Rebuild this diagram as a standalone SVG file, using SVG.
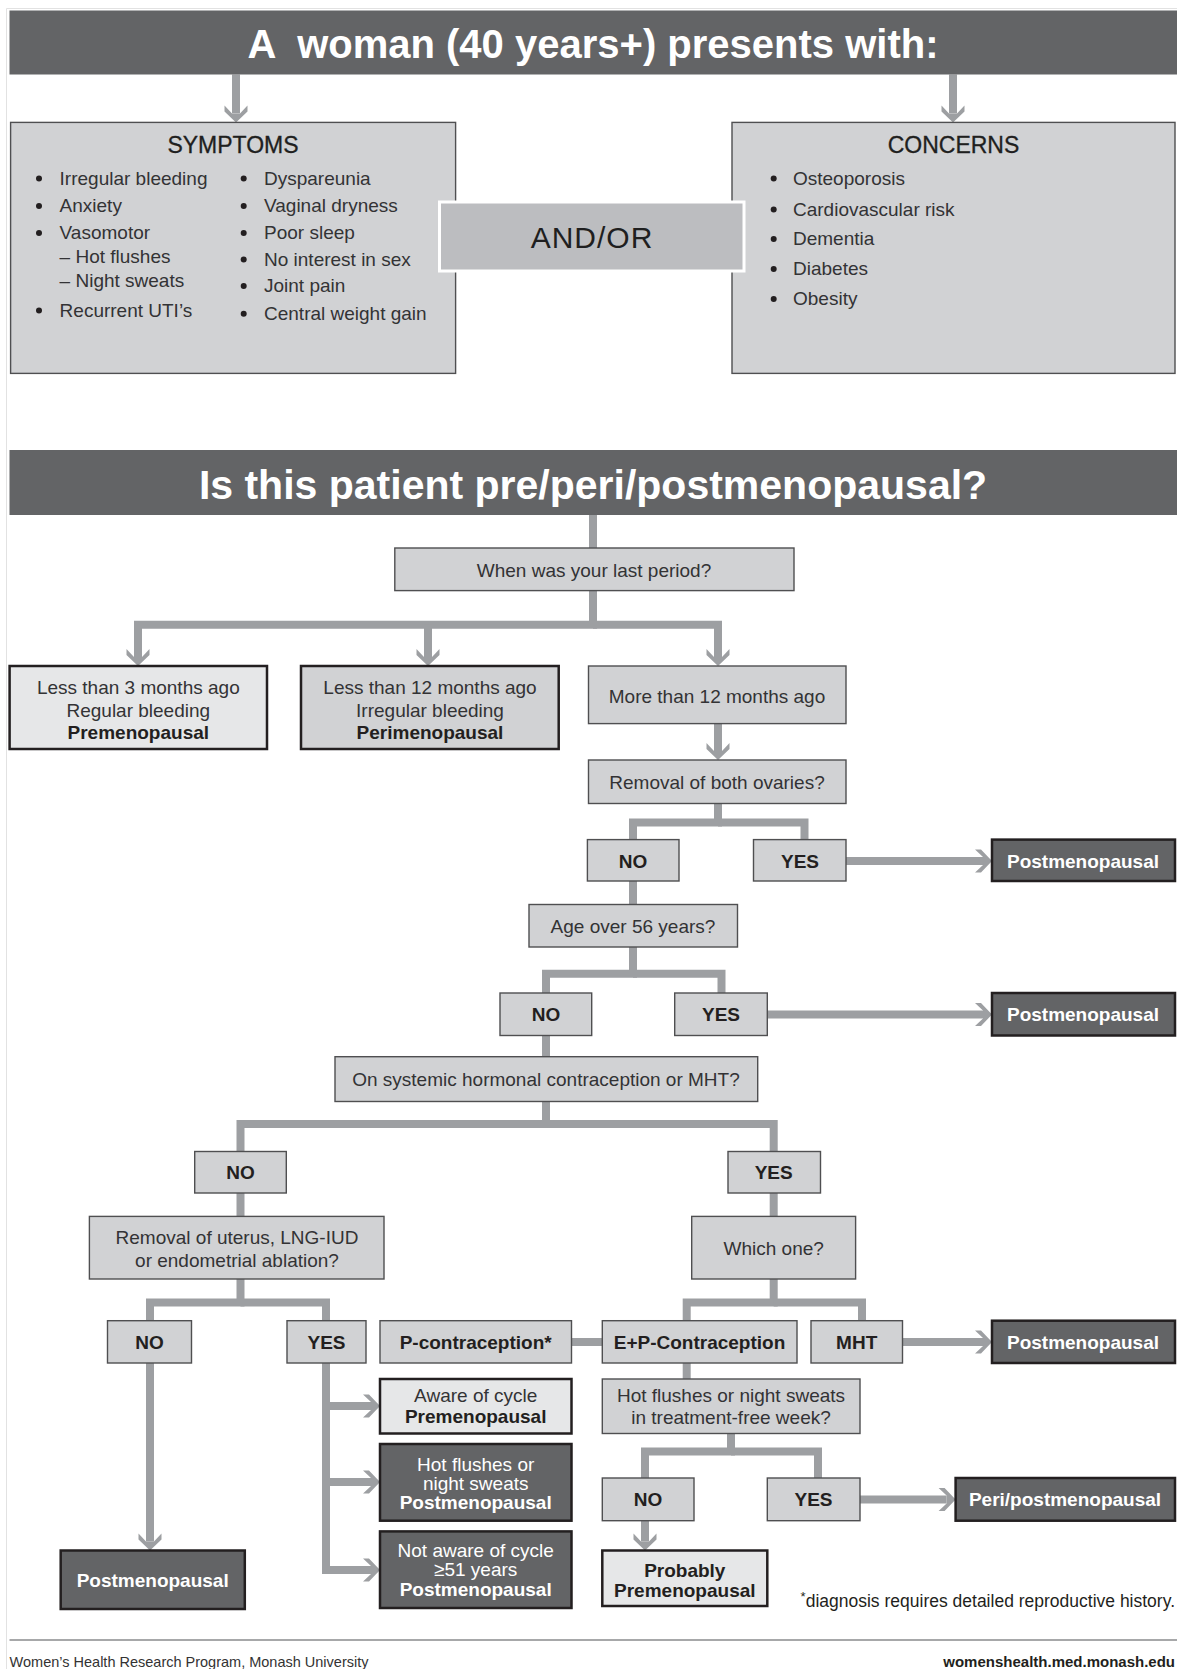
<svg xmlns="http://www.w3.org/2000/svg" width="1177" height="1669" viewBox="0 0 1177 1669">
<style>
.t{font-family:"Liberation Sans",Arial,Helvetica,sans-serif;font-size:19px;fill:#333335;text-anchor:middle}
.l{text-anchor:start}
.b{font-weight:bold;fill:#231f20}
.w{fill:#ffffff}
.hd{fill:#636466}
.box{fill:#d1d2d4;stroke:#4f4f51;stroke-width:1.4}
.lite{fill:#e6e7e8;stroke:#231f20;stroke-width:2.5}
.perim{fill:#d1d2d4;stroke:#231f20;stroke-width:2.5}
.dark{fill:#636466;stroke:#231f20;stroke-width:2.5}
.conn{fill:none;stroke:#9d9fa2;stroke-width:8;stroke-linejoin:miter}
.arr{marker-end:url(#ah)}
.bul{fill:#231f20}
</style>
<defs>
<marker id="ah" markerUnits="userSpaceOnUse" orient="auto" viewBox="-10 -12 20 24" refX="0" refY="0" markerWidth="20" markerHeight="24" overflow="visible">
<path d="M9,0 L-2,-11.5 L-8,-11.5 L0,-4 L0,4 L-8,11.5 L-2,11.5 Z" fill="#9d9fa2"/>
</marker>
</defs>
<rect width="1177" height="1669" fill="#ffffff"/>
<line x1="6.5" y1="8.5" x2="6.5" y2="1669" stroke="#e2e2e2" stroke-width="1"/>
<line x1="6.5" y1="8.5" x2="1177" y2="8.5" stroke="#e2e2e2" stroke-width="1"/>

<g id="connectors">
<path class="conn arr" d="M236,74.5 V113.4"/>
<path class="conn arr" d="M953,74.5 V113.4"/>
<path class="conn" d="M593,515 V548"/>
<path class="conn arr" d="M593,590 V624.7 H138 V657"/>
<path class="conn arr" d="M593,624.7 H718 V657"/>
<path class="conn arr" d="M428,624.7 V657"/>
<path class="conn arr" d="M718,723.6 V751"/>
<path class="conn" d="M718,803.5 V822.6 H633 V839.6"/>
<path class="conn" d="M718,822.6 H804.5 V839.6"/>
<path class="conn arr" d="M846,861 H983"/>
<path class="conn" d="M633,881 V904.5"/>
<path class="conn" d="M633,947 V973.7 H546 V993"/>
<path class="conn" d="M633,973.7 H721.5 V993"/>
<path class="conn arr" d="M767,1014.5 H983"/>
<path class="conn" d="M546,1035.5 V1056.7"/>
<path class="conn" d="M546,1101.5 V1124 H240.5 V1151.5"/>
<path class="conn" d="M546,1124 H773.7 V1151.5"/>
<path class="conn" d="M240.5,1193 V1216.4"/>
<path class="conn" d="M773.7,1193 V1216.4"/>
<path class="conn" d="M240.5,1279 V1302.6 H150 V1320.7"/>
<path class="conn" d="M240.5,1302.6 H326 V1320.7"/>
<path class="conn" d="M773.7,1279 V1302.6 H686.7 V1320.7"/>
<path class="conn" d="M773.7,1302.6 H862 V1320.7"/>
<path class="conn" d="M571.5,1342 H602.3"/>
<path class="conn arr" d="M902.5,1342 H983"/>
<path class="conn" d="M686.7,1363 V1379"/>
<path class="conn" d="M731,1433.5 V1451.6 H645 V1478"/>
<path class="conn" d="M731,1451.6 H818 V1478"/>
<path class="conn arr" d="M860,1499.5 H946.6"/>
<path class="conn arr" d="M645,1520.7 V1541.5"/>
<path class="conn arr" d="M150,1363 V1541.5"/>
<path class="conn arr" d="M326,1363 V1570 H371"/>
<path class="conn arr" d="M326,1406 H371"/>
<path class="conn arr" d="M326,1482 H371"/>
</g>

<g id="header1">
<rect class="hd" x="9.5" y="10.5" width="1167.5" height="64"/>
<text class="t b w" x="593" y="58" style="font-size:40px" xml:space="preserve">A  woman (40 years+) presents with:</text>
</g>

<g id="symptoms">
<rect class="box" x="10.6" y="122.4" width="445" height="251"/>
<text class="t" x="233" y="153" style="font-size:23px;fill:#1f1f20;stroke:#1f1f20;stroke-width:0.3">SYMPTOMS</text>
<circle class="bul" cx="39" cy="178.5" r="3"/>
<text class="t l" x="59.6" y="184.5">Irregular bleeding</text>
<circle class="bul" cx="39" cy="206" r="3"/>
<text class="t l" x="59.6" y="212">Anxiety</text>
<circle class="bul" cx="39" cy="233" r="3"/>
<text class="t l" x="59.6" y="239">Vasomotor</text>
<text class="t l" x="59.6" y="263">– Hot flushes</text>
<text class="t l" x="59.6" y="287">– Night sweats</text>
<circle class="bul" cx="39" cy="310.5" r="3"/>
<text class="t l" x="59.6" y="316.5">Recurrent UTI’s</text>
<circle class="bul" cx="243.7" cy="178.5" r="3"/>
<text class="t l" x="264" y="184.5">Dyspareunia</text>
<circle class="bul" cx="243.7" cy="206" r="3"/>
<text class="t l" x="264" y="212">Vaginal dryness</text>
<circle class="bul" cx="243.7" cy="233" r="3"/>
<text class="t l" x="264" y="239">Poor sleep</text>
<circle class="bul" cx="243.7" cy="259.5" r="3"/>
<text class="t l" x="264" y="265.5">No interest in sex</text>
<circle class="bul" cx="243.7" cy="286" r="3"/>
<text class="t l" x="264" y="292">Joint pain</text>
<circle class="bul" cx="243.7" cy="313.7" r="3"/>
<text class="t l" x="264" y="319.7">Central weight gain</text>
</g>

<g id="concerns">
<rect class="box" x="732" y="122.4" width="443" height="251"/>
<text class="t" x="953.5" y="153" style="font-size:23px;fill:#1f1f20;stroke:#1f1f20;stroke-width:0.3">CONCERNS</text>
<circle class="bul" cx="773.7" cy="178.5" r="3"/>
<text class="t l" x="793" y="184.5">Osteoporosis</text>
<circle class="bul" cx="773.7" cy="209.5" r="3"/>
<text class="t l" x="793" y="215.5">Cardiovascular risk</text>
<circle class="bul" cx="773.7" cy="239" r="3"/>
<text class="t l" x="793" y="245">Dementia</text>
<circle class="bul" cx="773.7" cy="269" r="3"/>
<text class="t l" x="793" y="275">Diabetes</text>
<circle class="bul" cx="773.7" cy="299" r="3"/>
<text class="t l" x="793" y="305">Obesity</text>
</g>

<g id="andor">
<rect x="439.5" y="202" width="304.5" height="69" fill="#bcbdc0" stroke="#ffffff" stroke-width="3"/>
<text class="t" x="592" y="248" style="font-size:30px;fill:#1f1f20;letter-spacing:1px">AND/OR</text>
</g>

<g id="header2">
<rect class="hd" x="9.5" y="450" width="1167.5" height="65"/>
<text class="t b w" x="593" y="499" style="font-size:41px">Is this patient pre/peri/postmenopausal?</text>
</g>

<g id="q-last-period">
<rect class="box" x="394.8" y="548" width="399.2" height="42.6"/>
<text class="t" x="594" y="577">When was your last period?</text>
</g>

<g id="lt3">
<rect class="lite" x="9.6" y="666" width="257.4" height="83"/>
<text class="t" x="138.3" y="694">Less than 3 months ago</text>
<text class="t" x="138.3" y="716.5">Regular bleeding</text>
<text class="t b" x="138.3" y="738.5">Premenopausal</text>
</g>

<g id="lt12">
<rect class="perim" x="301" y="666" width="257.7" height="83"/>
<text class="t" x="430" y="694">Less than 12 months ago</text>
<text class="t" x="430" y="716.5">Irregular bleeding</text>
<text class="t b" x="430" y="738.5">Perimenopausal</text>
</g>

<g id="gt12">
<rect class="box" x="588.5" y="666" width="257.5" height="57.6"/>
<text class="t" x="717" y="703">More than 12 months ago</text>
</g>

<g id="q-ovaries">
<rect class="box" x="588.5" y="760" width="257.5" height="43.5"/>
<text class="t" x="717" y="789">Removal of both ovaries?</text>
</g>

<g id="ov-no">
<rect class="box" x="587.4" y="839.6" width="91.6" height="41.4"/>
<text class="t b" x="633" y="867.5">NO</text>
</g>
<g id="ov-yes">
<rect class="box" x="753.5" y="839.6" width="92.5" height="41.4"/>
<text class="t b" x="800" y="867.5">YES</text>
</g>
<g id="post1">
<rect class="dark" x="992" y="839.6" width="183" height="41.4"/>
<text class="t b w" x="1083" y="867.5">Postmenopausal</text>
</g>

<g id="q-age">
<rect class="box" x="529" y="904.5" width="208.5" height="42.5"/>
<text class="t" x="633" y="932.5">Age over 56 years?</text>
</g>
<g id="age-no">
<rect class="box" x="500" y="993" width="91.7" height="42.5"/>
<text class="t b" x="546" y="1021">NO</text>
</g>
<g id="age-yes">
<rect class="box" x="674.7" y="993" width="92.6" height="42.5"/>
<text class="t b" x="721" y="1021">YES</text>
</g>
<g id="post2">
<rect class="dark" x="992" y="993" width="183" height="42.5"/>
<text class="t b w" x="1083" y="1021">Postmenopausal</text>
</g>

<g id="q-hormonal">
<rect class="box" x="335" y="1056.7" width="422.7" height="44.8"/>
<text class="t" x="546" y="1086">On systemic hormonal contraception or MHT?</text>
</g>
<g id="hc-no">
<rect class="box" x="194.7" y="1151.5" width="91.6" height="41.5"/>
<text class="t b" x="240.5" y="1179">NO</text>
</g>
<g id="hc-yes">
<rect class="box" x="728" y="1151.5" width="92.5" height="41.5"/>
<text class="t b" x="773.7" y="1179">YES</text>
</g>

<g id="q-uterus">
<rect class="box" x="89.4" y="1216.4" width="294.6" height="62.6"/>
<text class="t" x="237" y="1243.5">Removal of uterus, LNG-IUD</text>
<text class="t" x="237" y="1266.5">or endometrial ablation?</text>
</g>
<g id="q-which">
<rect class="box" x="691.7" y="1216.4" width="163.9" height="62.6"/>
<text class="t" x="773.7" y="1254.5">Which one?</text>
</g>

<g id="ut-no">
<rect class="box" x="107.5" y="1320.7" width="84" height="42.3"/>
<text class="t b" x="149.5" y="1349">NO</text>
</g>
<g id="ut-yes">
<rect class="box" x="287" y="1320.7" width="79" height="42.3"/>
<text class="t b" x="326.5" y="1349">YES</text>
</g>
<g id="p-contra">
<rect class="box" x="380" y="1320.7" width="191.5" height="42.3"/>
<text class="t b" x="475.7" y="1349">P-contraception*</text>
</g>
<g id="ep-contra">
<rect class="box" x="602.3" y="1320.7" width="194.7" height="42.3"/>
<text class="t b" x="699.5" y="1349">E+P-Contraception</text>
</g>
<g id="mht">
<rect class="box" x="811" y="1320.7" width="91.5" height="42.3"/>
<text class="t b" x="856.7" y="1349">MHT</text>
</g>
<g id="post3">
<rect class="dark" x="992" y="1320.7" width="183" height="42.3"/>
<text class="t b w" x="1083" y="1349">Postmenopausal</text>
</g>

<g id="aware">
<rect class="lite" x="380" y="1379" width="191.5" height="54.5"/>
<text class="t" x="475.7" y="1402">Aware of cycle</text>
<text class="t b" x="475.7" y="1423">Premenopausal</text>
</g>
<g id="hotflush-post">
<rect class="dark" x="380" y="1444" width="191.5" height="76.7"/>
<text class="t w" x="475.7" y="1471">Hot flushes or</text>
<text class="t w" x="475.7" y="1490">night sweats</text>
<text class="t b w" x="475.7" y="1509">Postmenopausal</text>
</g>
<g id="notaware">
<rect class="dark" x="380" y="1531.4" width="191.5" height="76.6"/>
<text class="t w" x="475.7" y="1557">Not aware of cycle</text>
<text class="t w" x="475.7" y="1576">≥51 years</text>
<text class="t b w" x="475.7" y="1596">Postmenopausal</text>
</g>
<g id="post4">
<rect class="dark" x="60.7" y="1550.5" width="184.1" height="58.5"/>
<text class="t b w" x="152.7" y="1587">Postmenopausal</text>
</g>

<g id="q-treatfree">
<rect class="box" x="602.3" y="1379" width="257.7" height="54.5"/>
<text class="t" x="731" y="1402">Hot flushes or night sweats</text>
<text class="t" x="731" y="1424">in treatment-free week?</text>
</g>
<g id="tf-no">
<rect class="box" x="602.3" y="1478" width="91.7" height="42.7"/>
<text class="t b" x="648" y="1506">NO</text>
</g>
<g id="tf-yes">
<rect class="box" x="767.3" y="1478" width="92.7" height="42.7"/>
<text class="t b" x="813.5" y="1506">YES</text>
</g>
<g id="peripost">
<rect class="dark" x="955.6" y="1478" width="219.4" height="42.7"/>
<text class="t b w" x="1065" y="1506">Peri/postmenopausal</text>
</g>
<g id="probably">
<rect class="lite" x="602.3" y="1550.5" width="165" height="55.5"/>
<text class="t b" x="684.8" y="1577">Probably</text>
<text class="t b" x="684.8" y="1597">Premenopausal</text>
</g>

<g id="footnote">
<text class="t" x="1175" y="1607" style="text-anchor:end;font-size:17.5px;fill:#1f1f20"><tspan dy="-6" style="font-size:13px">*</tspan><tspan dy="6">diagnosis requires detailed reproductive history.</tspan></text>
</g>

<g id="footer">
<line x1="9.5" y1="1640" x2="1177" y2="1640" stroke="#8a8b8d" stroke-width="1.5"/>
<text class="t l" x="9.6" y="1667" style="font-size:14.5px;fill:#333">Women’s Health Research Program, Monash University</text>
<text class="t b" x="1175" y="1667" style="font-size:15px;text-anchor:end">womenshealth.med.monash.edu</text>
</g>
</svg>
